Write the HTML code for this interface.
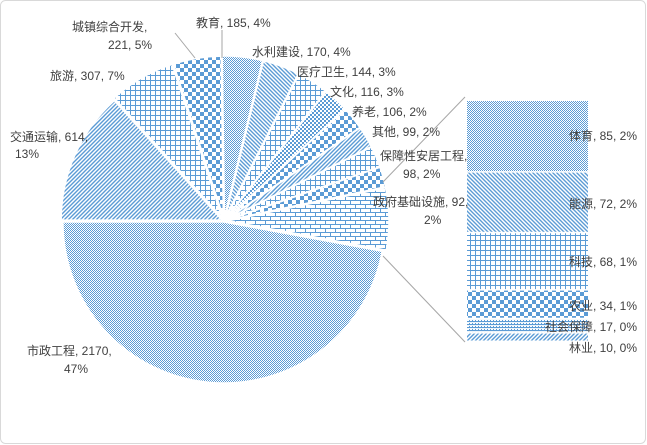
<!DOCTYPE html>
<html><head><meta charset="utf-8"><style>
html,body{margin:0;padding:0;background:#fff;}
svg{display:block;font-family:"Liberation Sans","Noto Sans CJK SC",sans-serif;}
text{font-size:12px;fill:#404040;}
</style></head><body>
<svg id="s" width="647" height="445" viewBox="0 0 647 445" xmlns="http://www.w3.org/2000/svg">
<defs>
<pattern id="pDot" width="2" height="2" patternUnits="userSpaceOnUse"><rect width="2" height="2" fill="#fff"/><rect width="1" height="1" fill="#5b9bd5"/><rect x="1" y="1" width="1" height="1" fill="#5b9bd5"/></pattern>
<pattern id="pDiag" width="4" height="4" patternUnits="userSpaceOnUse"><rect width="4" height="4" fill="#fff"/><path d="M-1,1 l2,-2 M0,4 l4,-4 M3,5 l2,-2" stroke="#5b9bd5" stroke-width="1.4"/></pattern>
<pattern id="pDiag2" width="4" height="4" patternUnits="userSpaceOnUse"><rect width="4" height="4" fill="#fff"/><path d="M-1,3 l2,2 M0,0 l4,4 M3,-1 l2,2" stroke="#5b9bd5" stroke-width="1.4"/></pattern>
<pattern id="pGrid" width="5" height="5" patternUnits="userSpaceOnUse"><rect width="5" height="5" fill="#fff"/><path d="M0,0.5 h5 M0.5,0 v5" stroke="#5b9bd5" stroke-width="1"/></pattern>
<pattern id="pChk" width="8" height="8" patternUnits="userSpaceOnUse"><rect width="8" height="8" fill="#fff"/><rect width="4" height="4" fill="#5b9bd5"/><rect x="4" y="4" width="4" height="4" fill="#5b9bd5"/></pattern>
<pattern id="pChkS" width="4" height="4" patternUnits="userSpaceOnUse"><rect width="4" height="4" fill="#fff"/><rect width="2" height="2" fill="#5b9bd5"/><rect x="2" y="2" width="2" height="2" fill="#5b9bd5"/></pattern>
<pattern id="pBrick" width="10" height="8" patternUnits="userSpaceOnUse"><rect width="10" height="8" fill="#fff"/><path d="M0,0.5 h10 M0,4.5 h10 M0.5,0 v4 M5.5,4 v4" stroke="#5b9bd5" stroke-width="1"/></pattern>
<pattern id="pHz" width="3" height="3" patternUnits="userSpaceOnUse"><rect width="3" height="3" fill="#fff"/><path d="M0,0.5 h3" stroke="#5b9bd5" stroke-width="1.2"/><rect x="1" y="2" width="1" height="1" fill="#5b9bd5"/></pattern>
</defs>
<rect x="0.5" y="0.5" width="645" height="443" rx="5" fill="#fff" stroke="#d9d9d9"/>
<g id="pie"></g>
<g stroke="#a6a6a6" stroke-width="1" fill="none">
<line x1="383" y1="182" x2="465" y2="97"/>
<line x1="383" y1="256" x2="465" y2="342"/>
<line x1="175" y1="33" x2="195" y2="58"/>
<line x1="222" y1="30" x2="222" y2="58"/>
</g>
<g id="bar"></g>
<text x="72" y="31">城镇综合开发,</text><text x="108" y="49">221, 5%</text>
<text x="196" y="27">教育, 185, 4%</text>
<text x="252" y="56">水利建设, 170, 4%</text>
<text x="297" y="76">医疗卫生, 144, 3%</text>
<text x="330" y="96">文化, 116, 3%</text>
<text x="352" y="116">养老, 106, 2%</text>
<text x="372" y="136">其他, 99, 2%</text>
<text x="380" y="160">保障性安居工程,</text><text x="403" y="178">98, 2%</text>
<text x="373" y="206">政府基础设施, 92,</text><text x="424" y="224">2%</text>
<text x="10" y="141">交通运输, 614,</text><text x="15" y="158">13%</text>
<text x="50" y="80">旅游, 307, 7%</text>
<text x="27" y="355">市政工程, 2170,</text><text x="64" y="373">47%</text>
<g text-anchor="end">
<text x="637" y="140">体育, 85, 2%</text>
<text x="637" y="208">能源, 72, 2%</text>
<text x="637" y="266">科技, 68, 1%</text>
<text x="637" y="310">农业, 34, 1%</text>
<text x="637" y="331">社会保障, 17, 0%</text>
<text x="637" y="352">林业, 10, 0%</text>
</g>
</svg>
<script>
var C=[224,221],R=161;
var d=[[614,'pDiag',2],[307,'pGrid',4],[221,'pChk',4],[185,'pDot',4],[170,'pDiag2',4],[144,'pGrid',4],[116,'pChkS',4],[106,'pChk',4],[99,'pDiag',4],[98,'pGrid',4],[92,'pChk',4],[286,'pBrick',4],[2170,'pDot',1]];
var tot=4608,a=180,g=document.getElementById('pie'),h='';
function pt(cx,cy,deg,r){var t=deg*Math.PI/180;return [cx+r*Math.cos(t),cy+r*Math.sin(t)];}
d.forEach(function(s){var sw=s[0]/tot*360,b=a+sw;
 var m=(a+b)/2,o=pt(C[0],C[1],m,s[2]);var p1=pt(o[0],o[1],a,R),p2=pt(o[0],o[1],b,R);
 h+='<path d="M'+o[0]+','+o[1]+' L'+p1[0]+','+p1[1]+' A'+R+','+R+' 0 '+(sw>180?1:0)+' 1 '+p2[0]+','+p2[1]+' Z" fill="url(#'+s[1]+')" stroke="#fff" stroke-width="1.5"/>';
 a=b;});
g.innerHTML=h;
var bv=[[85,'pDot'],[72,'pDiag2'],[68,'pGrid'],[34,'pChk'],[17,'pHz'],[10,'pDiag']],y=101,bh='';
bv.forEach(function(v){var hh=v[0]/286*241;bh+='<rect x="467" y="'+y+'" width="121" height="'+(hh-1.5)+'" fill="url(#'+v[1]+')"/>';y+=hh;});
document.getElementById('bar').innerHTML=bh;
</script>
</body></html>
